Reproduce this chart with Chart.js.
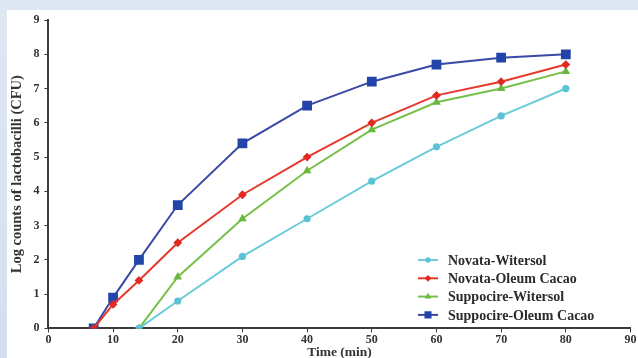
<!DOCTYPE html>
<html>
<head>
<meta charset="utf-8">
<script src="https://cdn.jsdelivr.net/npm/chart.js@4.4.0/dist/chart.umd.min.js"></script>
<style>
  html, body { margin: 0; padding: 0; }
  body { width: 638px; height: 358px; overflow: hidden; }
  #wrap { width: 638px; height: 358px; position: relative; }
</style>
</head>
<body>
<div id="wrap"><canvas id="myChart" width="638" height="358"></canvas></div>
<script>
const seriesNames = ['Novata-Witersol', 'Novata-Oleum Cacao', 'Suppocire-Witersol', 'Suppocire-Oleum Cacao']

const timeNW = [14, 20, 30, 40, 50, 60, 70, 80]
const novataWitersol = [0, 0.8, 2.1, 3.2, 4.3, 5.3, 6.2, 7.0]

const timeNO = [7, 10, 14, 20, 30, 40, 50, 60, 70, 80]
const novataOleum = [0, 0.7, 1.4, 2.5, 3.9, 5.0, 6.0, 6.8, 7.2, 7.7]

const timeSW = [14, 20, 30, 40, 50, 60, 70, 80]
const suppocireWitersol = [0, 1.5, 3.2, 4.6, 5.8, 6.6, 7.0, 7.5]

const timeSO = [7, 10, 14, 20, 30, 40, 50, 60, 70, 80]
const suppocireOleum = [0, 0.9, 2.0, 3.6, 5.4, 6.5, 7.2, 7.7, 7.9, 8.0]

const xTicks = [0, 10, 20, 30, 40, 50, 60, 70, 80, 90]
const yTicks = [0, 1, 2, 3, 4, 5, 6, 7, 8, 9]

const pts = (xs, ys) => xs.map((x, i) => ({ x: x, y: ys[i] }))

const serif = "'Liberation Serif', 'DejaVu Serif', serif"
const axisColor = '#3d3a3a'

// fond bleu clair autour du panneau blanc
const backdrop = {
  id: 'backdrop',
  beforeDraw(chart) {
    const c = chart.ctx
    const g = c.createLinearGradient(0, 0, 0, 358)
    g.addColorStop(0, '#dfe7f2')
    g.addColorStop(1, '#d3dff0')
    c.save()
    c.fillStyle = g
    c.fillRect(0, 0, chart.width, chart.height)
    c.fillStyle = '#ffffff'
    c.fillRect(7, 10, chart.width - 7, chart.height - 10)
    c.restore()
  }
}

// légende dessinée dans la zone du graphique, en bas à droite
const innerLegend = {
  id: 'innerLegend',
  afterDatasetsDraw(chart) {
    const c = chart.ctx
    const x0 = 418, y0 = 260, step = 18.3
    c.save()
    chart.data.datasets.forEach((ds, i) => {
      const y = y0 + i * step
      c.strokeStyle = ds.borderColor
      c.lineWidth = 2
      c.beginPath()
      c.moveTo(x0, y)
      c.lineTo(x0 + 20, y)
      c.stroke()
      c.fillStyle = ds.pointBackgroundColor
      c.strokeStyle = ds.pointBackgroundColor
      Chart.helpers.drawPoint(c, {
        pointStyle: ds.pointStyle,
        radius: ds.pointRadius * 0.65,
        borderWidth: 1
      }, x0 + 10, y)
      c.fillStyle = '#2b2b2b'
      c.font = "bold 14px " + serif
      c.textBaseline = 'middle'
      c.textAlign = 'left'
      c.fillText(ds.label, x0 + 30, y + 1)
    })
    c.restore()
  }
}

const ctx = document.getElementById('myChart').getContext('2d')

new Chart(ctx, {
  type: 'line',
  data: {
    datasets: [{
      label: seriesNames[0],
      data: pts(timeNW, novataWitersol),
      borderColor: '#6ccbda',
      backgroundColor: '#6ccbda',
      pointBackgroundColor: '#5cc3d4',
      pointBorderColor: '#5cc3d4',
      pointStyle: 'circle',
      pointRadius: 2.6,
      borderWidth: 2
    }, {
      label: seriesNames[1],
      data: pts(timeNO, novataOleum),
      borderColor: '#e8382c',
      backgroundColor: '#e8382c',
      pointBackgroundColor: '#e02a22',
      pointBorderColor: '#e02a22',
      pointStyle: 'rectRot',
      pointRadius: 3,
      borderWidth: 2
    }, {
      label: seriesNames[2],
      data: pts(timeSW, suppocireWitersol),
      borderColor: '#76c04a',
      backgroundColor: '#76c04a',
      pointBackgroundColor: '#6ab83e',
      pointBorderColor: '#6ab83e',
      pointStyle: 'triangle',
      pointRadius: 3,
      borderWidth: 2
    }, {
      label: seriesNames[3],
      data: pts(timeSO, suppocireOleum),
      borderColor: '#3a48a6',
      backgroundColor: '#2344a8',
      pointBackgroundColor: '#2344a8',
      pointBorderColor: '#2344a8',
      pointStyle: 'rect',
      pointRadius: 5.5,
      borderWidth: 2
    }]
  },
  options: {
    responsive: false,
    animation: false,
    layout: {
      padding: { left: 9, top: 20, right: 4, bottom: -3 }
    },
    plugins: {
      legend: { display: false },
      tooltip: { enabled: false }
    },
    scales: {
      x: {
        type: 'linear',
        min: 0,
        max: 90,
        afterBuildTicks: (axis) => { axis.ticks = xTicks.map(v => ({ value: v })) },
        grid: {
          drawOnChartArea: false,
          drawTicks: true,
          tickLength: 4,
          color: axisColor
        },
        border: { display: true, color: axisColor, width: 2 },
        ticks: {
          color: '#333',
          font: { family: serif, size: 12, weight: 'bold' },
          padding: 0
        },
        title: {
          display: true,
          text: 'Time (min)',
          color: '#333',
          font: { family: serif, size: 13.5, weight: 'bold' },
          padding: { top: -2, bottom: 0 }
        }
      },
      y: {
        type: 'linear',
        min: 0,
        max: 9,
        afterBuildTicks: (axis) => { axis.ticks = yTicks.map(v => ({ value: v })) },
        grid: {
          drawOnChartArea: false,
          drawTicks: true,
          tickLength: 4,
          color: axisColor
        },
        border: { display: true, color: axisColor, width: 2 },
        ticks: {
          color: '#333',
          font: { family: serif, size: 12, weight: 'bold' },
          padding: 5
        },
        title: {
          display: true,
          text: 'Log counts of lactobacilli (CFU)',
          color: '#333',
          font: { family: serif, size: 14.5, weight: 'bold' },
          padding: { top: 0, bottom: 2 }
        }
      }
    }
  },
  plugins: [backdrop, innerLegend]
})
</script>
</body>
</html>
